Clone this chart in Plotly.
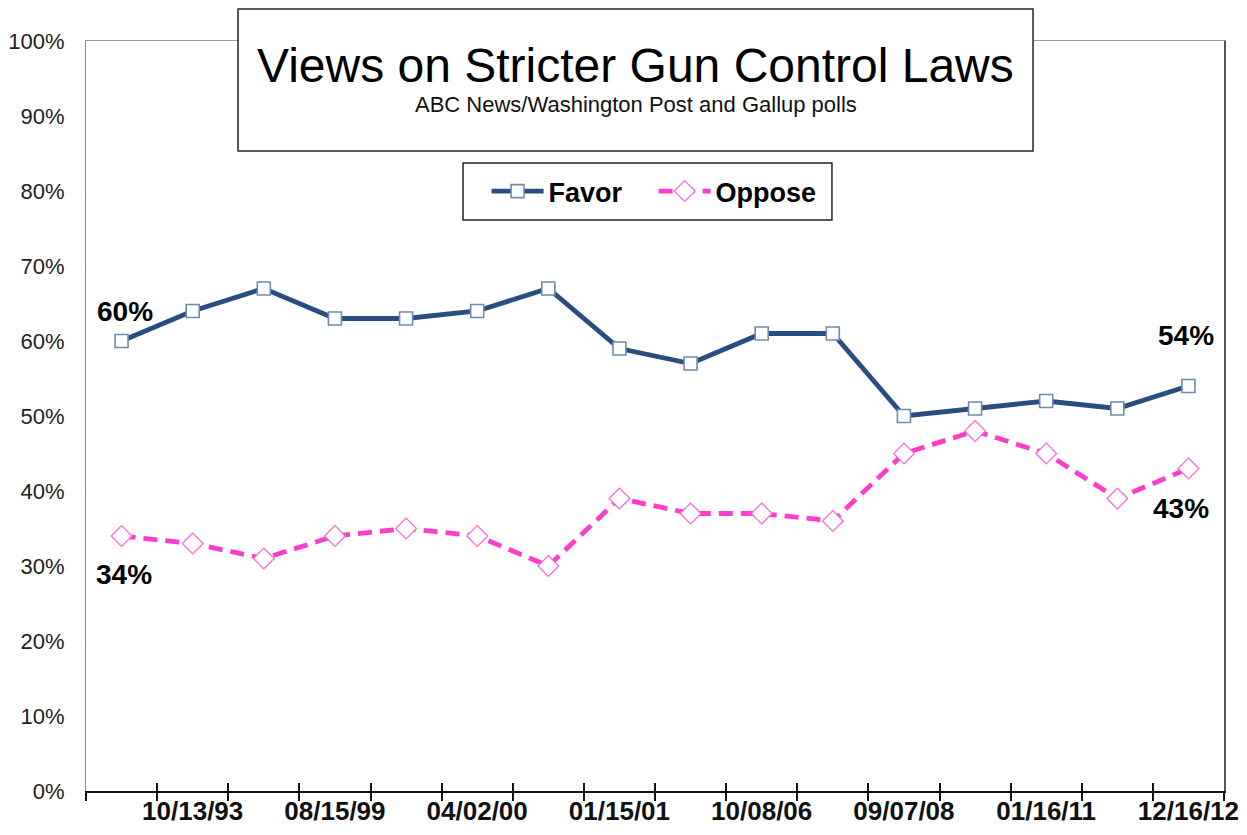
import plotly.graph_objects as go

# ---- data ----
poll_index = list(range(1, 17))  # 16 poll dates, in order
favor = [60, 64, 67, 63, 63, 64, 67, 59, 57, 61, 61, 50, 51, 52, 51, 54]
oppose = [34, 33, 31, 34, 35, 34, 30, 39, 37, 37, 36, 45, 48, 45, 39, 43]
tick_positions = [2, 4, 6, 8, 10, 12, 14, 16]
tick_labels = ["10/13/93", "08/15/99", "04/02/00", "01/15/01",
               "10/08/06", "09/07/08", "01/16/11", "12/16/12"]
y_ticks = [0, 10, 20, 30, 40, 50, 60, 70, 80, 90, 100]

FONT = "Arial, 'Liberation Sans', sans-serif"
FAVOR_COLOR = "#2A4D7F"
OPPOSE_COLOR = "#FF3DCB"

boundaries = [p - 0.5 for p in poll_index] + [poll_index[-1] + 0.5]
xr = [poll_index[0] - 0.5, poll_index[-1] + 0.5]

fig = go.Figure()
fig.add_trace(go.Scatter(
    x=poll_index, y=favor, name="Favor", mode="lines+markers",
    line=dict(color=FAVOR_COLOR, width=4.8),
    marker=dict(symbol="square", size=13, color="white",
                line=dict(color="#6F8BB0", width=1.6)),
))
fig.add_trace(go.Scatter(
    x=poll_index, y=oppose, name="Oppose", mode="lines+markers",
    line=dict(color=OPPOSE_COLOR, width=4.8, dash="14px,8px"),
    marker=dict(symbol="diamond", size=16, color="white",
                line=dict(color="#FF66D6", width=1.2)),
))

fig.update_layout(
    width=1247, height=835,
    margin=dict(l=86, r=23, t=41, b=44, autoexpand=False),
    paper_bgcolor="white", plot_bgcolor="white",
    font=dict(family=FONT, color="#111"),
    showlegend=True,
    legend=dict(
        orientation="h", x=0.352, xanchor="left", y=0.7993, yanchor="middle",
        borderwidth=0, bgcolor="rgba(0,0,0,0)",
        font=dict(family=FONT, size=27, color="#000", weight="bold"),
        itemwidth=52, entrywidth=100, tracegroupgap=0,
    ),
    xaxis=dict(
        range=xr, showgrid=False, zeroline=False, automargin=False,
        showline=True, linecolor="#111", linewidth=1.5,
        tickmode="array", tickvals=tick_positions, ticktext=tick_labels,
        ticks="", ticklabelstandoff=-4,
        tickfont=dict(family=FONT, size=26, color="#111", weight="bold"),
        minor=dict(tickmode="array", tickvals=boundaries, ticks="outside",
                   ticklen=8, tickcolor="#111", tickwidth=1.5, showgrid=False),
    ),
    xaxis2=dict(
        range=xr, overlaying="x", anchor="y", side="bottom", automargin=False,
        showgrid=False, zeroline=False, showline=False,
        tickmode="array", tickvals=boundaries, ticktext=[""] * len(boundaries),
        ticks="inside", ticklen=8, tickcolor="#111", tickwidth=1.5,
    ),
    xaxis3=dict(
        range=xr, overlaying="x", anchor="y", side="top", automargin=False,
        showgrid=False, zeroline=False, showline=True,
        linecolor="#9A9A9A", linewidth=1.2, showticklabels=False, ticks="",
    ),
    yaxis=dict(
        range=[0, 100], showgrid=False, zeroline=False, automargin=False,
        showline=True, linecolor="#8C8C8C", linewidth=1.2,
        tickmode="array", tickvals=y_ticks,
        ticktext=[f"{v}%" for v in y_ticks],
        ticks="", ticklabelstandoff=16,
        tickfont=dict(family=FONT, size=22, color="#222"),
    ),
    yaxis2=dict(
        range=[0, 100], overlaying="y", anchor="x", side="right", automargin=False,
        showgrid=False, zeroline=False, showline=True,
        linecolor="#555", linewidth=1.5, showticklabels=False, ticks="",
    ),
)

# invisible anchors so the overlay axes are drawn
fig.add_trace(go.Scatter(x=xr, y=[None, None], xaxis="x2", yaxis="y",
                         showlegend=False, hoverinfo="skip"))
fig.add_trace(go.Scatter(x=xr, y=[None, None], xaxis="x3", yaxis="y2",
                         showlegend=False, hoverinfo="skip"))

# title box
fig.add_shape(type="rect", xref="paper", yref="paper",
              x0=0.1336, x1=0.8322, y0=0.8533, y1=1.0427,
              line=dict(color="#222", width=1.5), fillcolor="white", layer="above")
fig.add_annotation(xref="paper", yref="paper", x=0.4829, y=0.968,
                   text="Views on Stricter Gun Control Laws", showarrow=False,
                   font=dict(family=FONT, size=48, color="#000"),
                   xanchor="center", yanchor="middle")
fig.add_annotation(xref="paper", yref="paper", x=0.4829, y=0.915,
                   text="ABC News/Washington Post and Gallup polls", showarrow=False,
                   font=dict(family=FONT, size=22, color="#111"),
                   xanchor="center", yanchor="middle")

# legend box
fig.add_shape(type="rect", xref="paper", yref="paper",
              x0=0.3313, x1=0.6555, y0=0.7613, y1=0.8373,
              line=dict(color="#222", width=1.5), fillcolor="white", layer="below")

# end-point labels
lab_font = dict(family=FONT, size=28, color="#000", weight="bold")
fig.add_annotation(x=poll_index[0], y=favor[0], text=f"{favor[0]}%", showarrow=False,
                   xshift=3, yshift=30, font=lab_font)
fig.add_annotation(x=poll_index[0], y=oppose[0], text=f"{oppose[0]}%", showarrow=False,
                   xshift=2, yshift=-38, font=lab_font)
fig.add_annotation(x=poll_index[-1], y=favor[-1], text=f"{favor[-1]}%", showarrow=False,
                   xshift=-2, yshift=51, font=lab_font)
fig.add_annotation(x=poll_index[-1], y=oppose[-1], text=f"{oppose[-1]}%", showarrow=False,
                   xshift=-7, yshift=-40, font=lab_font)

fig.write_html("out.html", config={"displayModeBar": False},
               post_script="document.body.style.margin='0';")
